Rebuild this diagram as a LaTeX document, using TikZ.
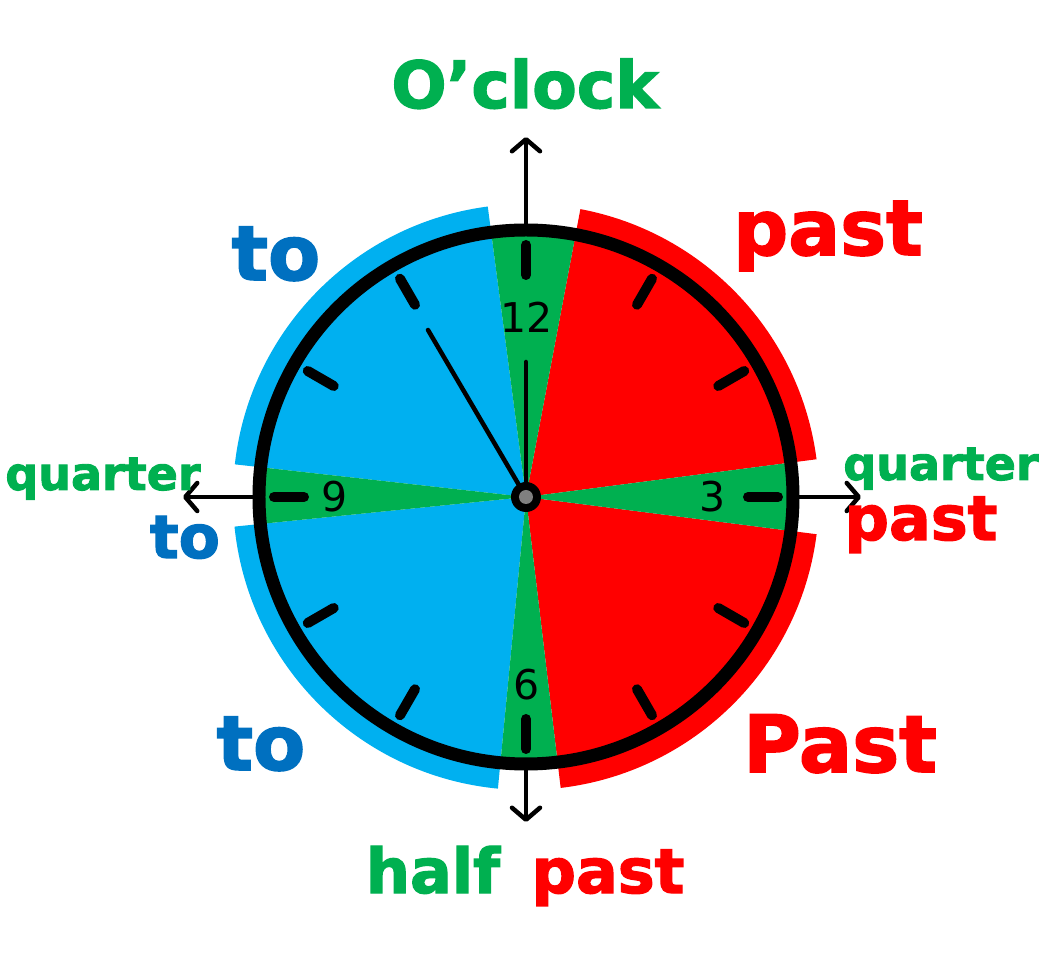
\documentclass[tikz,border=0pt]{standalone}
\usepackage{fontspec}
\setmainfont{DejaVu Sans}
\newfontfamily\heavy{DejaVu Sans Bold}[FakeBold=2]
\usetikzlibrary{arrows.meta}
\definecolor{skyb}{HTML}{00B0F0}
\definecolor{redc}{HTML}{FF0000}
\definecolor{greenc}{HTML}{00B050}
\definecolor{blueT}{HTML}{0070C0}
\begin{document}
\begin{tikzpicture}[x=1pt,y=1pt,
  lbl/.style={inner sep=0pt,anchor=base},
  num/.style={inner sep=0pt,font=\fontsize{41}{41}\selectfont},
  tick/.style={line width=10pt,line cap=round},
  hand/.style={line width=4.5pt,line cap=round},
  axis/.style={line width=4.5pt,line cap=round,-{Straight Barb[length=12pt,width=28pt,round]}}]
\useasboundingbox (-526,-461) rectangle (519,497);
\coordinate (c) at (0,0);
% outer coloured sectors
\fill[skyb] (c) -- (97.5:293) arc[start angle=97.5,end angle=173.6,radius=293] -- cycle;
\fill[skyb] (c) -- (185.8:293) arc[start angle=185.8,end angle=264.5,radius=293] -- cycle;
\fill[redc] (c) -- (276.8:293) arc[start angle=276.8,end angle=352.7,radius=293] -- cycle;
\fill[redc] (c) -- (7.4:293) arc[start angle=7.4,end angle=79.3,radius=293] -- cycle;
% green sectors
\fill[greenc] (c) -- (79.3:267) arc[start angle=79.3,end angle=97.5,radius=267] -- cycle;
\fill[greenc] (c) -- (173.6:267) arc[start angle=173.6,end angle=185.8,radius=267] -- cycle;
\fill[greenc] (c) -- (264.5:267) arc[start angle=264.5,end angle=276.8,radius=267] -- cycle;
\fill[greenc] (c) -- (-7.3:267) arc[start angle=-7.3,end angle=7.4,radius=267] -- cycle;
% ring
\draw[line width=13pt] (c) circle[radius=267];
% ticks
\foreach \a in {0,30,...,330}{
  \draw[tick] (\a:222) -- (\a:252);
}
% numbers
\node[num] (n12) at (1,180) {12};
\node[num] (n9) at (-191,0) {9};
\node[num] (n3) at (187,0) {3};
\node[num] (n6) at (1,-188) {6};
% axes
\coordinate (at) at (0,267);
\coordinate (ab) at (0,-267);
\coordinate (al) at (-267,0);
\coordinate (ar) at (267,0);
\coordinate (tt) at (0,360);
\coordinate (tb) at (0,-325);
\coordinate (tl) at (-343,0);
\coordinate (tr) at (335,0);
\draw[axis] (at) -- (tt);
\draw[axis] (ab) -- (tb);
\draw[axis] (al) -- (tl);
\draw[axis] (ar) -- (tr);
% hands
\coordinate (mh) at (0,135);
\coordinate (hh) at (-98,167);
\draw[hand] (c) -- (mh);
\draw[hand] (c) -- (hh);
\fill[black] (c) circle[radius=15];
\fill[gray] (c) circle[radius=7];
% labels
\node[lbl,text=greenc,font=\heavy\fontsize{65}{65}\selectfont] (oclock) at (-1,389) {O’clock};
\node[lbl,text=redc,font=\heavy\fontsize{77}{77}\selectfont] (pastTR) at (302,242) {past};
\node[lbl,text=blueT,font=\heavy\fontsize{76}{76}\selectfont] (toTL) at (-250,217) {to};
\node[lbl,text=greenc,font=\heavy\fontsize{46}{46}\selectfont] (qL) at (-423,7) {quarter};
\node[lbl,text=blueT,font=\heavy\fontsize{60}{60}\selectfont] (toL) at (-341,-61) {to};
\node[lbl,text=greenc,font=\heavy\fontsize{46}{46}\selectfont] (qR) at (415,17) {quarter};
\node[lbl,text=redc,font=\heavy\fontsize{62}{62}\selectfont] (pastR) at (395,-43) {past};
\node[lbl,text=blueT,font=\heavy\fontsize{76}{76}\selectfont] (toBL) at (-265,-273) {to};
\node[lbl,text=redc,font=\heavy\fontsize{79}{79}\selectfont] (pastBR) at (314,-275) {Past};
\node[lbl,text=greenc,font=\heavy\fontsize{62}{62}\selectfont] (half) at (-93,-396) {half};
\node[lbl,text=redc,font=\heavy\fontsize{62}{62}\selectfont] (pastB) at (82,-396) {past};
\end{tikzpicture}
\end{document}
